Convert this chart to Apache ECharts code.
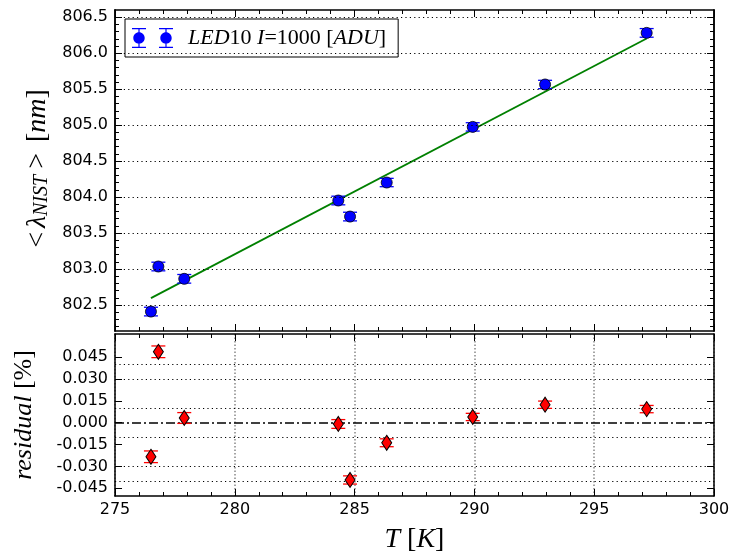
<!DOCTYPE html>
<html><head><meta charset="utf-8">
<script src="https://cdn.jsdelivr.net/npm/echarts@6/dist/echarts.min.js"></script>
<style>html,body{margin:0;padding:0;background:#fff}#chart{width:733px;height:556px}</style>
</head><body><div id="chart"></div>
<script>
// ---- data ----
const temperatureK = [276.50, 276.81, 277.89, 284.32, 284.81, 286.34, 289.93, 292.95, 297.19];
const lambdaNm     = [802.410, 803.036, 802.865, 803.953, 803.730, 804.203, 804.976, 805.565, 806.282];
const lambdaErr    = [0.060, 0.060, 0.060, 0.060, 0.060, 0.058, 0.058, 0.058, 0.060];
const residualPct  = [-0.0234, 0.0486, 0.0032, -0.0009, -0.0393, -0.0138, 0.0039, 0.0123, 0.0093];
const residualErr  = [0.0040, 0.0040, 0.0037, 0.0030, 0.0028, 0.0027, 0.0025, 0.0025, 0.0025];
const fitT         = [276.50, 297.19];
const fitLambda    = [802.597, 806.204];
const xTicks       = [275, 280, 285, 290, 295, 300];
const lambdaTicks  = [802.5, 803.0, 803.5, 804.0, 804.5, 805.0, 805.5, 806.0, 806.5];
const lambdaMinor  = [802.2, 802.3, 802.4, 802.6, 802.7, 802.8, 802.9, 803.1, 803.2, 803.3, 803.4,
                      803.6, 803.7, 803.8, 803.9, 804.1, 804.2, 804.3, 804.4, 804.6, 804.7, 804.8, 804.9,
                      805.1, 805.2, 805.3, 805.4, 805.6, 805.7, 805.8, 805.9, 806.1, 806.2, 806.3, 806.4];
const residualTicks = [-0.045, -0.030, -0.015, 0.000, 0.015, 0.030, 0.045];
const legendName = 'LED10 I=1000 [ADU]';

// ---- chart ----
const chart = echarts.init(document.getElementById('chart'), null, {renderer: 'canvas'});
const serif = 'Liberation Serif';
const lblFont = 'DejaVu Sans';

function errorBarRender(capW, color, lw) {
  return function (params, api) {
    const x = api.value(0), lo = api.value(1), hi = api.value(2);
    const a = api.coord([x, lo]), b = api.coord([x, hi]);
    const style = {stroke: color, lineWidth: lw, fill: null};
    return {type: 'group', children: [
      {type: 'line', shape: {x1: a[0], y1: a[1], x2: b[0], y2: b[1]}, style: style},
      {type: 'line', shape: {x1: a[0] - capW / 2, y1: a[1], x2: a[0] + capW / 2, y2: a[1]}, style: style},
      {type: 'line', shape: {x1: b[0] - capW / 2, y1: b[1], x2: b[0] + capW / 2, y2: b[1]}, style: style}
    ]};
  };
}

const axisLineStyle = {lineStyle: {color: '#000', width: 1.5}};
function xAx(grid, pos, labels) {
  return {
    type: 'value', gridIndex: grid, position: pos, min: 275, max: 300, interval: 5,
    axisLine: Object.assign({show: true, onZero: false}, axisLineStyle),
    axisTick: {show: true, inside: true, length: 7, lineStyle: {color: '#000', width: 1}},
    minorTick: {show: true, splitNumber: 5, length: 4, lineStyle: {color: '#000', width: 1}},
    axisLabel: {show: labels, color: '#000', fontFamily: lblFont, fontSize: 16, margin: 6},
    splitLine: {show: false}
  };
}
function yAx(grid, pos, min, max, ticks, len, labels, fmt) {
  return {
    type: 'value', gridIndex: grid, position: pos, min: min, max: max,
    axisLine: Object.assign({show: true, onZero: false}, axisLineStyle),
    axisTick: {show: true, inside: true, length: len, customValues: ticks, lineStyle: {color: '#000', width: 1}},
    axisLabel: {show: labels, customValues: ticks, color: '#000', fontFamily: lblFont, fontSize: 16, margin: 7,
                formatter: fmt},
    splitLine: {show: false}
  };
}

const yMinTop = 802.14, yMaxTop = 806.6;
const yMinBot = -0.0503, yMaxBot = 0.0608;

function circ(cx, cy, r) {
  const k = 0.5523 * r;
  return 'M' + (cx - r) + ',' + cy +
    ' C' + (cx - r) + ',' + (cy - k) + ' ' + (cx - k) + ',' + (cy - r) + ' ' + cx + ',' + (cy - r) +
    ' C' + (cx + k) + ',' + (cy - r) + ' ' + (cx + r) + ',' + (cy - k) + ' ' + (cx + r) + ',' + cy +
    ' C' + (cx + r) + ',' + (cy + k) + ' ' + (cx + k) + ',' + (cy + r) + ' ' + cx + ',' + (cy + r) +
    ' C' + (cx - k) + ',' + (cy + r) + ' ' + (cx - r) + ',' + (cy + k) + ' ' + (cx - r) + ',' + cy + ' Z ';
}
const legendIcon = 'path://' + circ(7, 10, 5.7) +
  'M6.4,0 L7.6,0 L7.6,20 L6.4,20 Z M0,0 L14,0 L14,1.3 L0,1.3 Z M0,18.7 L14,18.7 L14,20 L0,20 Z ' +
  circ(34, 10, 5.7) +
  'M33.4,0 L34.6,0 L34.6,20 L33.4,20 Z M27,0 L41,0 L41,1.3 L27,1.3 Z M27,18.7 L41,18.7 L41,20 L27,20 Z';

const topY = yAx(0, 'left', yMinTop, yMaxTop, lambdaTicks, 7, true, v => v.toFixed(1));
topY.name = '{o|<}{i|λ}{s|NIST}{o|>}{r| [}{i|nm}{r|]}';
topY.nameLocation = 'middle';
topY.nameRotate = 90;
topY.nameGap = 60;
topY.nameTextStyle = {
  color: '#000',
  rich: {
    o: {fontFamily: serif, fontSize: 28, color: '#000', padding: [0, 4, 0, 4]},
    r: {fontFamily: serif, fontSize: 28, color: '#000'},
    i: {fontFamily: serif, fontStyle: 'italic', fontSize: 28, color: '#000'},
    s: {fontFamily: serif, fontStyle: 'italic', fontSize: 20, color: '#000', verticalAlign: 'bottom', padding: [0, 2, 0, 0]}
  }
};

const botY = yAx(1, 'left', yMinBot, yMaxBot, residualTicks, 7, true, v => v.toFixed(3));
botY.name = '{i|residual}{r|\u00a0[%]}';
botY.nameLocation = 'middle';
botY.nameRotate = 90;
botY.nameGap = 78;
botY.nameTextStyle = {
  color: '#000',
  rich: {
    r: {fontFamily: serif, fontSize: 26, color: '#000'},
    i: {fontFamily: serif, fontStyle: 'italic', fontSize: 26, color: '#000'}
  }
};

const botX = xAx(1, 'bottom', true);
botX.name = '{i|T}{r|\u00a0[}{i|K}{r|]}';
botX.nameLocation = 'middle';
botX.nameGap = 30;
botX.nameTextStyle = {
  color: '#000',
  rich: {
    r: {fontFamily: serif, fontSize: 28, color: '#000'},
    i: {fontFamily: serif, fontStyle: 'italic', fontSize: 28, color: '#000'}
  }
};
botX.splitLine = {show: true, lineStyle: {color: '#888', width: 1.5, type: [1.5, 2]}};

const option = {
  animation: false,
  backgroundColor: '#fff',
  grid: [
    {left: 115, right: 19, top: 10, height: 321},
    {left: 115, right: 19, top: 334, height: 162}
  ],
  legend: {
    show: true, left: 125, top: 19,
    orient: 'horizontal',
    padding: [8, 12, 8, 7],
    borderColor: '#000', borderWidth: 1, borderRadius: 0,
    backgroundColor: '#fff',
    itemWidth: 41, itemHeight: 20,
    itemStyle: {borderWidth: 0},
    data: [{name: legendName, icon: legendIcon}],
    formatter: () => '{g| }{i|LED}{r|10 }{i|I}{r|=1000 [}{i|ADU}{r|]}',
    textStyle: {
      color: '#000',
      rich: {
        g: {width: 10},
        r: {fontFamily: serif, fontSize: 22, color: '#000', lineHeight: 26},
        i: {fontFamily: serif, fontStyle: 'italic', fontSize: 22, color: '#000', lineHeight: 26}
      }
    }
  },
  xAxis: [xAx(0, 'bottom', false), xAx(0, 'top', false), botX, xAx(1, 'top', false)],
  yAxis: [
    topY,
    yAx(0, 'right', yMinTop, yMaxTop, lambdaTicks, 7, false),
    yAx(0, 'left', yMinTop, yMaxTop, lambdaMinor, 4, false),
    yAx(0, 'right', yMinTop, yMaxTop, lambdaMinor, 4, false),
    botY,
    yAx(1, 'right', yMinBot, yMaxBot, residualTicks, 7, false)
  ],
  series: [
    {
      type: 'line', name: 'fit', xAxisIndex: 0, yAxisIndex: 0, z: 2,
      data: fitT.map((t, i) => [t, fitLambda[i]]),
      showSymbol: false, symbol: 'none',
      lineStyle: {color: '#008000', width: 1.8},
      markLine: {
        silent: true, symbol: ['none', 'none'], label: {show: false},
        lineStyle: {color: '#000', width: 1, type: [1.2, 3.2]},
        emphasis: {disabled: true},
        data: lambdaTicks.map(v => ({yAxis: v}))
      }
    },
    {
      type: 'custom', name: 'errTop', xAxisIndex: 0, yAxisIndex: 0, z: 3,
      renderItem: errorBarRender(14, '#0000ff', 1.3),
      encode: {x: 0, y: [1, 2]},
      data: temperatureK.map((t, i) => [t, lambdaNm[i] - lambdaErr[i], lambdaNm[i] + lambdaErr[i]])
    },
    {
      type: 'scatter', name: legendName, xAxisIndex: 0, yAxisIndex: 0, z: 4,
      symbol: 'circle', symbolSize: 11,
      itemStyle: {color: '#0000ff', borderColor: '#000', borderWidth: 0.8, opacity: 1},
      data: temperatureK.map((t, i) => [t, lambdaNm[i]])
    },
    {
      type: 'custom', name: 'errBot', xAxisIndex: 2, yAxisIndex: 4, z: 3,
      renderItem: errorBarRender(14, '#ff0000', 1.3),
      encode: {x: 0, y: [1, 2]},
      data: temperatureK.map((t, i) => [t, residualPct[i] - residualErr[i], residualPct[i] + residualErr[i]])
    },
    {
      type: 'scatter', name: 'residual', xAxisIndex: 2, yAxisIndex: 4, z: 4,
      symbol: 'diamond', symbolSize: [10, 15],
      itemStyle: {color: '#ff0000', borderColor: '#000', borderWidth: 1, opacity: 1},
      data: temperatureK.map((t, i) => [t, residualPct[i]]),
      markLine: {
        silent: true, symbol: ['none', 'none'], label: {show: false}, z: 2,
        emphasis: {disabled: true},
        data: residualTicks.filter(v => v !== 0).map(v => ({yAxis: v, lineStyle: {color: '#000', width: 1, type: [1.2, 3.2]}}))
          .concat([{yAxis: 0, lineStyle: {color: '#000', width: 1.5, type: [9, 3, 2, 3]}}])
      }
    }
  ]
};
chart.setOption(option);
</script>
</body></html>
